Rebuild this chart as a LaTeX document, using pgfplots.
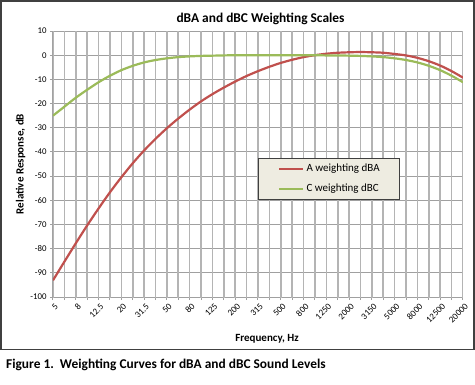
\documentclass[border=0pt]{standalone}
\usepackage{fontspec}
\setmainfont{Carlito}
\usepackage{pgfplots}
\usepackage{pgfplotstable}
\pgfplotsset{compat=1.18}
\definecolor{aRed}{HTML}{C0504D}
\definecolor{cGreen}{HTML}{9BBB59}
\definecolor{gridgray}{HTML}{A0A0A0}
\definecolor{vgridgray}{HTML}{B4B4B4}
\definecolor{legfill}{HTML}{EEECE1}
\pgfplotstableread{
idx A C
0 -93.1 -25.0
1 -85.4 -21.3
2 -77.8 -17.6
3 -70.4 -14.3
4 -63.4 -11.2
5 -56.7 -8.5
6 -50.5 -6.2
7 -44.7 -4.4
8 -39.4 -3.0
9 -34.6 -2.0
10 -30.2 -1.3
11 -26.2 -0.8
12 -22.5 -0.5
13 -19.1 -0.3
14 -16.1 -0.2
15 -13.4 -0.1
16 -10.9 0
17 -8.6 0
18 -6.6 0
19 -4.8 0
20 -3.2 0
21 -1.9 0
22 -0.8 0
23 0 0
24 0.6 -0.1
25 1.0 -0.1
26 1.2 -0.2
27 1.3 -0.3
28 1.2 -0.5
29 1.0 -0.8
30 0.5 -1.3
31 -0.1 -2.0
32 -1.1 -3.0
33 -2.5 -4.4
34 -4.3 -6.2
35 -6.6 -8.5
36 -9.3 -11.2
}\weighting
\begin{document}
\begin{tikzpicture}
\path[use as bounding box] (0pt,0pt) rectangle (475pt,384pt);
\draw[line width=1.6pt, black!75] (1pt,34.5pt) rectangle (474pt,383pt);
\node[font=\bfseries\fontsize{13.4}{15}\selectfont] at (260.5pt,365pt) {dBA and dBC Weighting Scales};
\node[font=\bfseries\fontsize{11}{13}\selectfont] at (267pt,45pt) {Frequency, Hz};
\node[font=\bfseries\fontsize{11}{13}\selectfont, rotate=90] at (20.5pt,220pt) {Relative Response, dB};
\node[anchor=west, font=\bfseries\fontsize{13.4}{15}\selectfont, inner sep=0pt] at (6pt,19pt) {Figure 1.\ \ Weighting Curves for dBA and dBC Sound Levels};
\begin{axis}[
  at={(53pt,87pt)}, anchor=south west, scale only axis,
  width=410pt, height=266pt,
  xmin=0, xmax=36, ymin=-100, ymax=10,
  ytick={-100,-90,...,10},
  xtick={0,2,...,36},
  minor xtick={1,3,...,35},
  xticklabels={5,8,12.5,20,31.5,50,80,125,200,315,500,800,1250,2000,3150,5000,8000,12500,20000},
  grid=both,
  major grid style={gridgray, line width=1pt},
  minor grid style={gridgray, line width=1pt},
  axis line style={gridgray, line width=1pt},
  every tick/.style={gridgray, line width=1pt},
  tick align=outside, xtick pos=bottom, ytick pos=left, major tick length=3pt, minor tick length=3pt,
  xticklabel style={rotate=45, anchor=north east, font=\fontsize{9}{10}\selectfont, inner sep=1pt, yshift=-2pt},
  yticklabel style={font=\fontsize{8.8}{10}\selectfont},
  /pgf/number format/assume math mode=true,
  legend style={at={(0.5,0.5226)}, anchor=north west, fill=legfill, draw=black!75, line width=0.8pt,
    font=\fontsize{11}{13}\selectfont, inner xsep=20pt, inner ysep=5.5pt, row sep=10pt,
    nodes={inner sep=0pt, text height=7.5pt, text depth=2.5pt},
    /tikz/every odd column/.style={column sep=2pt}},
  legend cell align=left,
  legend image code/.code={\draw[#1] (0pt,0pt) -- (24pt,0pt);},
]
\pgfplotsinvokeforeach{0,...,36}{\fill[vgridgray] ([xshift=-0.8pt]axis cs:#1,-101.2) rectangle ([xshift=0.8pt]axis cs:#1,10);}
\addplot[aRed, line width=2.2pt, smooth] table[x=idx, y=A] {\weighting};
\addlegendentry{A weighting dBA}
\addplot[cGreen, line width=2.2pt, smooth] table[x=idx, y=C] {\weighting};
\addlegendentry{C weighting dBC}
\end{axis}
\end{tikzpicture}
\end{document}
